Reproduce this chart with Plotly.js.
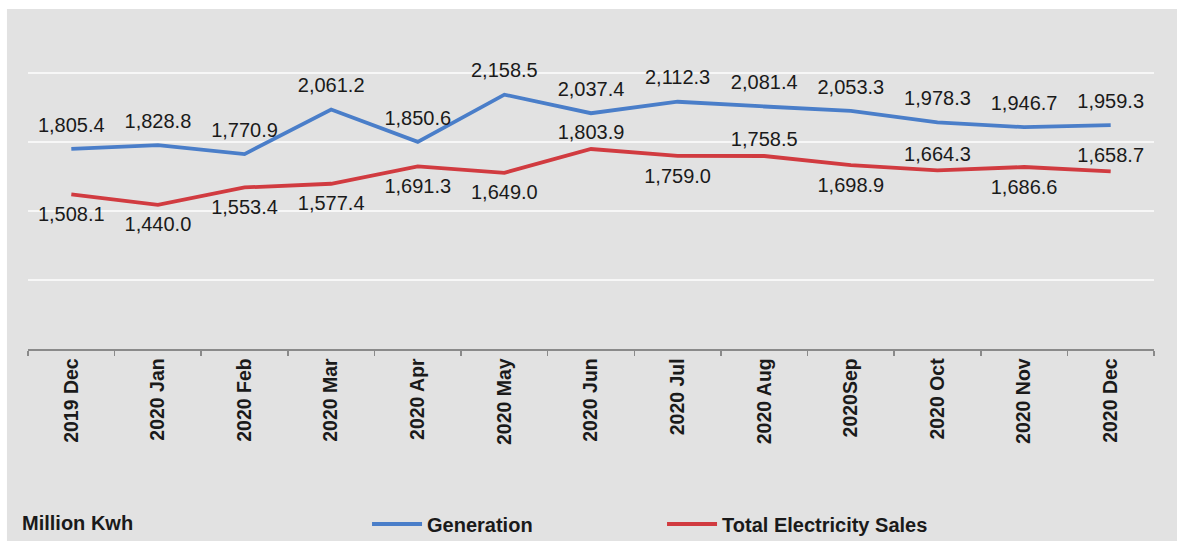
<!DOCTYPE html>
<html>
<head>
<meta charset="utf-8">
<script src="https://cdn.plot.ly/plotly-3.0.1.min.js"></script>
<style>html,body{margin:0;padding:0;background:#fff;}#chart{width:1177px;height:541px;}</style>
</head>
<body>
<div id="chart"></div>
<script>
// ---- data ----
var months = ['2019 Dec','2020 Jan','2020 Feb','2020 Mar','2020 Apr','2020 May','2020 Jun','2020 Jul','2020 Aug','2020Sep','2020 Oct','2020 Nov','2020 Dec'];
var generation = [1805.4, 1828.8, 1770.9, 2061.2, 1850.6, 2158.5, 2037.4, 2112.3, 2081.4, 2053.3, 1978.3, 1946.7, 1959.3];
var sales = [1508.1, 1440.0, 1553.4, 1577.4, 1691.3, 1649.0, 1803.9, 1759.0, 1758.5, 1698.9, 1664.3, 1686.6, 1658.7];
var seriesNames = ['Generation', 'Total Electricity Sales'];
var unitLabel = 'Million Kwh';

// ---- styles ----
var salesLabelPos = ['bottom center','bottom center','bottom center','bottom center','bottom center','bottom center','top center','bottom center','top center','bottom center','top center','bottom center','top center'];
var salesLabelGap = salesLabelPos.map(function(p){ return p.indexOf('top') === 0 ? 6 : 17; });
var FONT = 'Liberation Sans, Arial, sans-serif';
var labelFont = {family: FONT, size: 20, color: '#1a1a1a'};

var traces = [
  {
    x: months, y: generation, name: seriesNames[0], type: 'scatter',
    mode: 'lines+markers+text',
    line: {color: '#4a7ec9', width: 3.8},
    marker: {size: 18, color: 'rgba(0,0,0,0)', line: {width: 0}},
    texttemplate: '%{y:,.1f}', textposition: 'top center',
    textfont: labelFont, hoverinfo: 'skip'
  },
  {
    x: months, y: sales, name: seriesNames[1], type: 'scatter',
    mode: 'lines+markers+text',
    line: {color: '#d13b40', width: 3.8},
    marker: {size: salesLabelGap, color: 'rgba(0,0,0,0)', line: {width: 0}},
    texttemplate: '%{y:,.1f}', textposition: salesLabelPos,
    textfont: labelFont, hoverinfo: 'skip'
  }
];

var layout = {
  width: 1177, height: 541,
  margin: {l: 28, r: 23, t: 9, b: 192},
  paper_bgcolor: '#ffffff',
  plot_bgcolor: 'rgba(0,0,0,0)',
  showlegend: true,
  legend: {
    orientation: 'h', xref: 'paper', x: 0.3011, xanchor: 'left',
    yref: 'container', y: 0.0314, yanchor: 'middle',
    font: {family: FONT, size: 20, color: '#1a1a1a', weight: 'bold'},
    itemwidth: 50,
    bgcolor: 'rgba(0,0,0,0)', entrywidth: 230, entrywidthmode: 'pixels', itemclick: false
  },
  xaxis: {
    type: 'category', range: [-0.5, 12.5],
    showline: true, linecolor: '#8a8a8a', linewidth: 1.5,
    ticks: 'outside', tickson: 'boundaries', ticklen: 5, tickcolor: '#8a8a8a', tickwidth: 1.5,
    tickangle: -90, showgrid: false, automargin: false,
    tickfont: {family: FONT, size: 19.5, color: '#1a1a1a', weight: 'bold'},
    fixedrange: true
  },
  yaxis: {
    range: [500, 2717], tick0: 500, dtick: 450,
    showticklabels: false, showline: false, zeroline: false,
    showgrid: true, gridcolor: '#f7f7f7', gridwidth: 2,
    automargin: false, fixedrange: true
  },
  shapes: [
    {type: 'rect', xref: 'paper', yref: 'paper', x0: -0.0187, x1: 1.025, y0: -0.6, y1: 1.0,
     fillcolor: '#e2e2e2', line: {width: 0}, layer: 'below'}
  ],
  annotations: [
    {text: unitLabel, xref: 'paper', yref: 'paper', x: -0.0071, xanchor: 'left', y: -0.512, yanchor: 'middle',
     showarrow: false, font: {family: FONT, size: 20, color: '#1a1a1a', weight: 'bold'}}
  ]
};

Plotly.newPlot('chart', traces, layout, {staticPlot: true, displayModeBar: false});
</script>
</body>
</html>
